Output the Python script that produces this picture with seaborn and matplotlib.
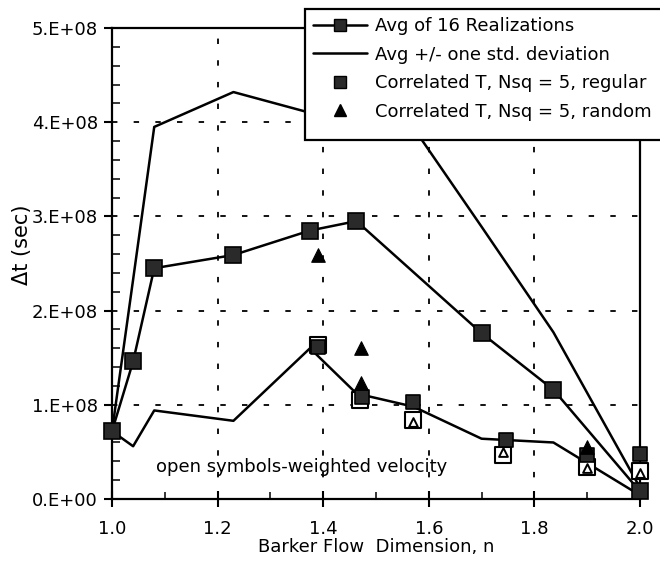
import numpy as np
import pandas as pd
import seaborn as sns
import matplotlib
matplotlib.use("Agg")
import matplotlib.pyplot as plt
from matplotlib.lines import Line2D
from matplotlib.patches import Rectangle
from matplotlib.ticker import MultipleLocator, FuncFormatter

# Average travel time over 16 realizations (values in 1e8 s)
flow_dim = [1.0, 1.04, 1.08, 1.23, 1.375, 1.463, 1.70, 1.836, 2.0]
avg_dt = [0.72, 1.46, 2.45, 2.59, 2.85, 2.95, 1.76, 1.16, 0.08]

# Average plus / minus one standard deviation
upper_x = [1.0, 1.04, 1.08, 1.23, 1.375, 1.463, 1.70, 1.836, 2.0]
upper_dt = [0.72, 2.33, 3.95, 4.32, 4.10, 4.82, 2.89, 1.77, 0.12]
lower_x = [1.0, 1.04, 1.08, 1.23, 1.375, 1.463, 1.571, 1.70, 1.836, 2.0]
lower_dt = [0.72, 0.56, 0.94, 0.83, 1.60, 1.12, 0.98, 0.64, 0.60, 0.04]

# Correlated T, Nsq = 5 : regular grid (filled squares)
reg_x = [1.39, 1.474, 1.571, 1.747, 1.90, 2.0]
reg_dt = [1.61, 1.08, 1.03, 0.63, 0.47, 0.48]
# Correlated T, Nsq = 5 : random grid (filled triangles)
rnd_x = [1.39, 1.472, 1.472, 1.90]
rnd_dt = [2.59, 1.60, 1.23, 0.55]
# Weighted-velocity results (open symbols)
wreg_x = [1.39, 1.47, 1.571, 1.741, 1.90, 2.0]
wreg_dt = [1.64, 1.05, 0.84, 0.47, 0.34, 0.30]
wrnd_x = [1.571, 1.741, 1.90, 2.0]
wrnd_dt = [0.82, 0.50, 0.33, 0.28]

SCALE = 1e8

sns.set_theme(style="white")
plt.rcParams["font.family"] = ["DejaVu Sans"]
plt.rcParams["text.color"] = "black"

fig = plt.figure(figsize=(6.6, 5.64), dpi=100)
ax = fig.add_axes([112 / 660, 1 - 499 / 564, 528 / 660, 471 / 564])

def frame(x, y):
    return pd.DataFrame({"x": x, "y": np.asarray(y) * SCALE})

band_kw = dict(color="black", linewidth=1.8, sort=False, clip_on=False)
sns.lineplot(data=frame(upper_x, upper_dt), x="x", y="y", ax=ax, **band_kw)
sns.lineplot(data=frame(lower_x, lower_dt), x="x", y="y", ax=ax, **band_kw)

sns.lineplot(data=frame(flow_dim, avg_dt), x="x", y="y", ax=ax, color="black",
             linewidth=1.8, marker="s", markersize=11, markerfacecolor="#2a2a2a",
             markeredgecolor="black", markeredgewidth=1.2, sort=False,
             clip_on=False, zorder=4)

# open symbols first so the filled ones sit on top
sns.scatterplot(data=frame(wreg_x, wreg_dt), x="x", y="y", ax=ax, marker="s",
                s=125, facecolor="white", edgecolor="black", linewidth=1.5,
                zorder=5, clip_on=False)
sns.scatterplot(data=frame(reg_x, reg_dt), x="x", y="y", ax=ax, marker="s",
                s=115, color="#2a2a2a", edgecolor="black", linewidth=1.2,
                zorder=6, clip_on=False)
sns.scatterplot(data=frame(rnd_x, rnd_dt), x="x", y="y", ax=ax, marker="^",
                s=95, color="black", edgecolor="black", linewidth=0.8,
                zorder=7, clip_on=False)
sns.scatterplot(data=frame(wrnd_x, wrnd_dt), x="x", y="y", ax=ax, marker="^",
                s=40, facecolor="white", edgecolor="black", linewidth=1.4,
                zorder=7, clip_on=False)

ax.set_xlim(1.0, 2.0)
ax.set_ylim(0, 5e8)
ax.xaxis.set_major_locator(MultipleLocator(0.2))
ax.xaxis.set_minor_locator(MultipleLocator(0.1))
ax.yaxis.set_major_locator(MultipleLocator(1e8))
ax.yaxis.set_minor_locator(MultipleLocator(0.2e8))
ax.xaxis.set_major_formatter(FuncFormatter(lambda v, p: f"{v:.1f}"))
ax.yaxis.set_major_formatter(FuncFormatter(lambda v, p: f"{int(round(v / 1e8))}.E+0{8 if v else 0}"))

ax.tick_params(axis="x", which="major", direction="inout", length=12, width=1.5,
               labelsize=13, pad=9, colors="black")
ax.tick_params(axis="x", which="minor", direction="in", length=5, width=1.3)
ax.tick_params(axis="y", which="major", direction="out", length=6, width=1.5,
               labelsize=13, pad=4, colors="black")
ax.tick_params(axis="y", which="minor", direction="in", length=6, width=1.3)
ax.tick_params(bottom=True, left=True, which="both")

ax.grid(True, which="major", color="black", linewidth=1.3, linestyle=(0, (3, 9)))
for sp in ax.spines.values():
    sp.set_color("black")
    sp.set_linewidth(1.6)

ax.set_xlabel("Barker Flow  Dimension, n", fontsize=13, labelpad=0, color="black")
ax.set_ylabel("\u0394t (sec)", fontsize=15, color="black")
ax.yaxis.set_label_coords(-0.152, 0.54)

ax.text(1.084, 0.34e8, "open symbols-weighted velocity", fontsize=13,
        color="black", va="center", ha="left")

# legend box: white panel that runs off the right edge of the figure
box = Rectangle((305 / 660, 1 - 140 / 564), 370 / 660, 131 / 564,
                transform=fig.transFigure, facecolor="white", edgecolor="black",
                linewidth=1.6, zorder=10, clip_on=False)
fig.patches.append(box)

handles = [
    Line2D([], [], color="black", linewidth=1.8, marker="s", markersize=8,
           markerfacecolor="#2a2a2a", markeredgecolor="black"),
    Line2D([], [], color="black", linewidth=1.8),
    Line2D([], [], linestyle="none", marker="s", markersize=9,
           markerfacecolor="#2a2a2a", markeredgecolor="black"),
    Line2D([], [], linestyle="none", marker="^", markersize=9,
           markerfacecolor="black", markeredgecolor="black"),
]
labels = ["Avg of 16 Realizations", "Avg +/- one std. deviation",
          "Correlated T, Nsq = 5, regular", "Correlated T, Nsq = 5, random"]
leg = fig.legend(handles, labels, loc="upper left",
                 bbox_to_anchor=(305 / 660, 1 - 9 / 564), fontsize=13,
                 frameon=False, handlelength=3.0, handletextpad=0.4,
                 borderpad=0.45, labelspacing=0.58, borderaxespad=0,
                 labelcolor="black")
leg.set_zorder(20)

fig.savefig("out.png", dpi=100)
